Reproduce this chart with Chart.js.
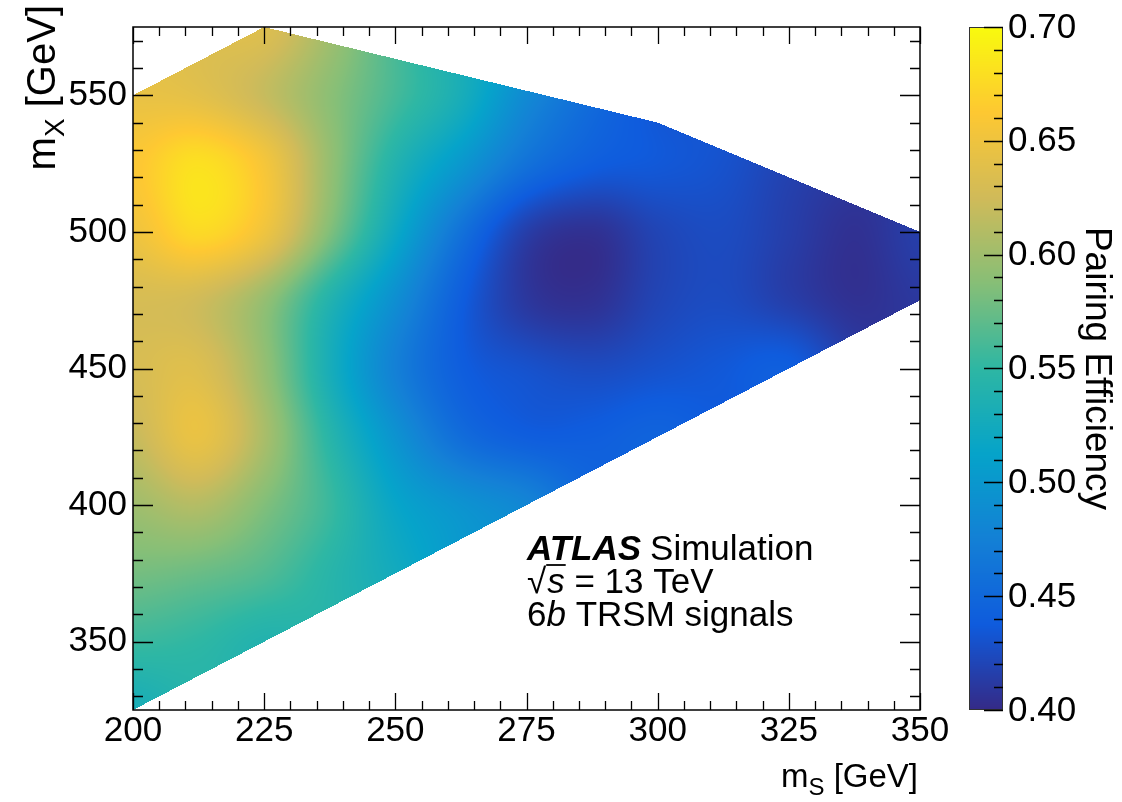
<!DOCTYPE html>
<html>
<head>
<meta charset="utf-8">
<script src="https://cdn.jsdelivr.net/npm/chart.js@4.4.1/dist/chart.umd.min.js"></script>
<style>
html,body{margin:0;padding:0;background:#fff;}
#wrap{width:1122px;height:802px;position:relative;}
</style>
</head>
<body>
<div id="wrap"><canvas id="c" width="1122" height="802" style="width:1122px;height:802px;"></canvas></div>
<script>
// ---------------- data ----------------
const mSNodes = [200, 212.5, 225, 237.5, 250, 262.5, 275, 287.5, 300, 312.5, 325, 337.5, 350];
const mXNodes = [325, 350, 375, 400, 425, 450, 475, 500, 525, 550, 575];
// pairing efficiency at each (mX row, mS column); null = outside the signal region
const eff325 = [0.530, null, null, null, null, null, null, null, null, null, null, null, null];
const eff350 = [0.555, 0.550, 0.540, null, null, null, null, null, null, null, null, null, null];
const eff375 = [0.580, 0.575, 0.565, 0.545, 0.525, null, null, null, null, null, null, null, null];
const eff400 = [0.600, 0.610, 0.585, 0.555, 0.515, 0.495, 0.480, null, null, null, null, null, null];
const eff425 = [0.620, 0.645, 0.605, 0.545, 0.495, 0.455, 0.440, 0.440, 0.445, null, null, null, null];
const eff450 = [0.630, 0.635, 0.595, 0.530, 0.475, 0.440, 0.430, 0.425, 0.430, 0.435, 0.440, null, null];
const eff475 = [0.630, 0.625, 0.595, 0.540, 0.490, 0.440, 0.410, 0.405, 0.420, 0.425, 0.415, 0.405, 0.410];
const eff500 = [0.650, 0.675, 0.650, 0.585, 0.520, 0.460, 0.415, 0.405, 0.420, 0.425, 0.415, 0.405, 0.415];
const eff525 = [0.660, 0.680, 0.655, 0.595, 0.540, 0.500, 0.460, 0.440, 0.435, 0.430, null, null, null];
const eff550 = [0.645, 0.640, 0.620, 0.590, 0.560, 0.530, 0.485, null, null, null, null, null, null];
const eff575 = [null, null, 0.635, null, null, null, null, null, null, null, null, null, null];
const efficiency = [eff325, eff350, eff375, eff400, eff425, eff450, eff475, eff500, eff525, eff550, eff575];

// boundary of the signal region (mS, mX)
const regionMS = [200, 200, 225, 300, 350, 350];
const regionMX = [325, 550, 575, 540, 500, 475];

// axis ticks
const xTickValues = [200, 225, 250, 275, 300, 325, 350];
const yTickValues = [350, 400, 450, 500, 550];
const zTickValues = [0.40, 0.45, 0.50, 0.55, 0.60, 0.65, 0.70];
const zMin = 0.40, zMax = 0.70;

// ---------------- helpers ----------------
const FONT = '"Liberation Sans", Arial, Helvetica, sans-serif';

// ROOT kBird palette
const birdStops = [0.0, 0.125, 0.25, 0.375, 0.5, 0.625, 0.75, 0.875, 1.0];
const birdR = [0.2082, 0.0592, 0.0780, 0.0232, 0.1802, 0.5301, 0.8186, 0.9956, 0.9764];
const birdG = [0.1664, 0.3599, 0.5041, 0.6419, 0.7178, 0.7492, 0.7328, 0.7862, 0.9832];
const birdB = [0.5293, 0.8684, 0.8385, 0.7914, 0.6425, 0.4662, 0.3499, 0.1968, 0.0539];
function bird(t) {
  t = Math.max(0, Math.min(1, t));
  let k = 0;
  while (k < birdStops.length - 2 && t > birdStops[k + 1]) k++;
  const f = (t - birdStops[k]) / (birdStops[k + 1] - birdStops[k]);
  return [
    255 * (birdR[k] + f * (birdR[k + 1] - birdR[k])),
    255 * (birdG[k] + f * (birdG[k + 1] - birdG[k])),
    255 * (birdB[k] + f * (birdB[k + 1] - birdB[k]))
  ];
}

function insideRegion(ms, mx) {
  let c = false;
  const n = regionMS.length;
  for (let i = 0, j = n - 1; i < n; j = i++) {
    const xi = regionMS[i], yi = regionMX[i], xj = regionMS[j], yj = regionMX[j];
    if (((yi > mx) !== (yj > mx)) && (ms < (xj - xi) * (mx - yi) / (yj - yi) + xi)) c = !c;
  }
  return c;
}

// pad empty grid nodes (outside the region) with the mean of filled neighbours, for smooth shading at the edges
function paddedGrid(rows) {
  let g = rows.map(r => r.slice());
  const R = g.length, C = g[0].length;
  for (let pass = 0; pass < 30; pass++) {
    let missing = 0;
    const next = g.map(r => r.slice());
    for (let j = 0; j < R; j++) for (let i = 0; i < C; i++) {
      if (g[j][i] !== null) continue;
      let s = 0, n = 0;
      for (let dj = -1; dj <= 1; dj++) for (let di = -1; di <= 1; di++) {
        const jj = j + dj, ii = i + di;
        if (jj < 0 || jj >= R || ii < 0 || ii >= C) continue;
        if (g[jj][ii] !== null) { s += g[jj][ii]; n++; }
      }
      if (n) next[j][i] = s / n; else missing++;
    }
    g = next;
    if (!missing) break;
  }
  return g;
}

function cr(p0, p1, p2, p3, t) {
  return p1 + 0.5 * t * (p2 - p0 + t * (2 * p0 - 5 * p1 + 4 * p2 - p3 + t * (3 * (p1 - p2) + p3 - p0)));
}
function sampleGrid(G, ms, mx) {
  const R = G.length, C = G[0].length;
  const u = (ms - mSNodes[0]) / (mSNodes[1] - mSNodes[0]);
  const w = (mx - mXNodes[0]) / (mXNodes[1] - mXNodes[0]);
  const i = Math.floor(u), j = Math.floor(w);
  const fu = u - i, fw = w - j;
  const col = [];
  for (let dj = -1; dj <= 2; dj++) {
    const jj = Math.max(0, Math.min(R - 1, j + dj));
    const row = G[jj];
    const p = [];
    for (let di = -1; di <= 2; di++) p.push(row[Math.max(0, Math.min(C - 1, i + di))]);
    col.push(cr(p[0], p[1], p[2], p[3], fu));
  }
  return cr(col[0], col[1], col[2], col[3], fw);
}

// ---------------- plugins ----------------
const whiteBg = {
  id: 'whiteBg',
  beforeDraw(chart) {
    const c = chart.ctx;
    c.save(); c.fillStyle = '#fff'; c.fillRect(0, 0, chart.width, chart.height); c.restore();
  }
};

const heatmap = {
  id: 'heatmap',
  beforeDatasetsDraw(chart) {
    const { ctx, chartArea: a, scales } = chart;
    const xs = scales.x, ys = scales.y;
    const G = paddedGrid(efficiency);
    const L = Math.round(a.left), T = Math.round(a.top);
    const W = Math.round(a.right) - L, H = Math.round(a.bottom) - T;
    const off = document.createElement('canvas');
    off.width = W; off.height = H;
    const octx = off.getContext('2d');
    const img = octx.createImageData(W, H);
    const msCol = new Float64Array(W), mxRow = new Float64Array(H);
    for (let px = 0; px < W; px++) msCol[px] = xs.getValueForPixel(L + px + 0.5);
    for (let py = 0; py < H; py++) mxRow[py] = ys.getValueForPixel(T + py + 0.5);
    for (let py = 0; py < H; py++) {
      for (let px = 0; px < W; px++) {
        const ms = msCol[px], mx = mxRow[py];
        if (!insideRegion(ms, mx)) continue;
        const v = sampleGrid(G, ms, mx);
        const rgb = bird((v - zMin) / (zMax - zMin));
        const k = 4 * (py * W + px);
        img.data[k] = rgb[0]; img.data[k + 1] = rgb[1]; img.data[k + 2] = rgb[2]; img.data[k + 3] = 255;
      }
    }
    octx.putImageData(img, 0, 0);
    ctx.drawImage(off, L, T);
  }
};

function drawRuns(c, x, y, runs) {
  for (const r of runs) {
    c.font = r.font;
    const yy = y + (r.dy || 0);
    c.fillText(r.text, x, yy);
    const w = c.measureText(r.text).width;
    if (r.overline) {
      c.save(); c.lineWidth = 1.8; c.strokeStyle = '#000';
      c.beginPath(); c.moveTo(x - 1, y - r.overline); c.lineTo(x + w + 1, y - r.overline); c.stroke();
      c.restore();
    }
    x += w + (r.gap || 0);
  }
  return x;
}
function runsWidth(c, runs) {
  let w = 0;
  for (const r of runs) { c.font = r.font; w += c.measureText(r.text).width + (r.gap || 0); }
  return w;
}

const decorations = {
  id: 'decorations',
  afterDraw(chart) {
    const { ctx: c, chartArea: a, scales } = chart;
    const xs = scales.x, ys = scales.y, zs = scales.z;
    c.save();
    c.strokeStyle = '#000'; c.fillStyle = '#000';

    // ticks on all four sides (inside the frame)
    c.lineWidth = 1.3;
    c.beginPath();
    for (let v = xs.min; v <= xs.max + 1e-9; v += 5) {
      const px = Math.round(xs.getPixelForValue(v)) + 0.5;
      const len = xTickValues.includes(v) ? 17 : 9;
      c.moveTo(px, a.bottom); c.lineTo(px, a.bottom - len);
      c.moveTo(px, a.top); c.lineTo(px, a.top + len);
    }
    for (let v = 330; v <= ys.max + 1e-9; v += 10) {
      const py = Math.round(ys.getPixelForValue(v)) + 0.5;
      const len = yTickValues.includes(v) ? 20 : 10;
      c.moveTo(a.left, py); c.lineTo(a.left + len, py);
      c.moveTo(a.right, py); c.lineTo(a.right - len, py);
    }
    c.stroke();

    // frame
    c.lineWidth = 1.5;
    c.strokeRect(a.left, a.top, a.right - a.left, a.bottom - a.top);

    // colour bar
    const bx0 = 969, bx1 = 1003;
    const top = zs.getPixelForValue(zMax), bot = zs.getPixelForValue(zMin);
    for (let py = Math.floor(top); py < Math.ceil(bot); py++) {
      const v = zs.getValueForPixel(py + 0.5);
      const rgb = bird((v - zMin) / (zMax - zMin));
      c.fillStyle = `rgb(${rgb[0] | 0},${rgb[1] | 0},${rgb[2] | 0})`;
      c.fillRect(bx0, py, bx1 - bx0, 1);
    }
    c.strokeStyle = '#333'; c.lineWidth = 1;
    c.strokeRect(bx0 + 0.5, top + 0.5, bx1 - bx0 - 1, bot - top - 1);
    c.strokeStyle = '#000'; c.lineWidth = 1.3;
    c.beginPath();
    for (let k = 0; k <= 30; k++) {
      const v = zMin + k * 0.01;
      const py = Math.round(zs.getPixelForValue(v)) + 0.5;
      const len = (k % 5 === 0) ? 19 : 9;
      c.moveTo(bx1, py); c.lineTo(bx1 - len, py);
    }
    c.stroke();
    c.fillStyle = '#000';
    c.font = '35px ' + FONT;
    c.textAlign = 'left'; c.textBaseline = 'middle';
    for (const v of zTickValues) {
      c.fillText(v.toFixed(2), 1008, zs.getPixelForValue(v) + 1);
    }

    // colour bar title
    c.save();
    c.translate(1086, (a.top + a.bottom) / 2);
    c.rotate(Math.PI / 2);
    c.textAlign = 'center'; c.textBaseline = 'alphabetic';
    c.font = '37px ' + FONT;
    c.fillText('Pairing Efficiency', 0, 0);
    c.restore();

    // axis titles
    c.textAlign = 'left'; c.textBaseline = 'alphabetic';
    const xTitle = [
      { text: 'm', font: '33px ' + FONT },
      { text: 'S', font: '24px ' + FONT, dy: 8 },
      { text: ' [GeV]', font: '33px ' + FONT }
    ];
    const xw = runsWidth(c, xTitle);
    drawRuns(c, 918 - xw, 787, xTitle);

    const yTitle = [
      { text: 'm', font: '40px ' + FONT },
      { text: 'X', font: '28px ' + FONT, dy: 9 },
      { text: ' [GeV]', font: '40px ' + FONT }
    ];
    const yw = runsWidth(c, yTitle);
    c.save();
    c.translate(55, 5);
    c.rotate(-Math.PI / 2);
    drawRuns(c, -yw, 0, yTitle);
    c.restore();

    // ATLAS label
    const x0 = 527;
    drawRuns(c, x0, 560, [
      { text: 'ATLAS', font: 'italic bold 35px ' + FONT, gap: 9 },
      { text: 'Simulation', font: '35px ' + FONT }
    ]);
    drawRuns(c, x0, 593, [
      { text: '\u221A', font: '35px ' + FONT, gap: 1 },
      { text: 's', font: 'italic 35px ' + FONT, overline: 28 },
      { text: ' = 13 TeV', font: '35px ' + FONT }
    ]);
    drawRuns(c, x0, 626, [
      { text: '6', font: '35px ' + FONT },
      { text: 'b', font: 'italic 35px ' + FONT },
      { text: ' TRSM signals', font: '35px ' + FONT }
    ]);
    c.restore();
  }
};

// ---------------- chart ----------------
const nodePoints = [];
mXNodes.forEach((mx, j) => mSNodes.forEach((ms, i) => {
  const v = efficiency[j][i];
  if (v !== null) nodePoints.push({ x: ms, y: mx, v: v });
}));

new Chart(document.getElementById('c').getContext('2d'), {
  type: 'scatter',
  data: {
    datasets: [{
      label: 'Pairing efficiency',
      data: nodePoints,
      pointRadius: 0,
      pointHoverRadius: 0,
      showLine: false
    }]
  },
  options: {
    responsive: false,
    animation: false,
    events: [],
    layout: { padding: { left: 0, right: 202, top: 21, bottom: 0 } },
    plugins: { legend: { display: false }, tooltip: { enabled: false } },
    scales: {
      x: {
        type: 'linear', min: 200, max: 350,
        grid: { display: false, drawTicks: false },
        border: { display: false },
        ticks: { color: '#000', font: { family: FONT, size: 35 }, padding: 0, maxRotation: 0, autoSkip: false },
        afterBuildTicks: s => { s.ticks = xTickValues.map(v => ({ value: v })); },
        afterFit: s => { s.height = 92; }
      },
      y: {
        type: 'linear', min: 325, max: 575,
        grid: { display: false, drawTicks: false },
        border: { display: false },
        ticks: { color: '#000', font: { family: FONT, size: 35 }, padding: 6, autoSkip: false },
        afterBuildTicks: s => { s.ticks = yTickValues.map(v => ({ value: v })); },
        afterFit: s => { s.width = 133; }
      },
      z: {
        type: 'linear', position: 'right', display: false, min: zMin, max: zMax
      }
    }
  },
  plugins: [whiteBg, heatmap, decorations]
});
</script>
</body>
</html>
